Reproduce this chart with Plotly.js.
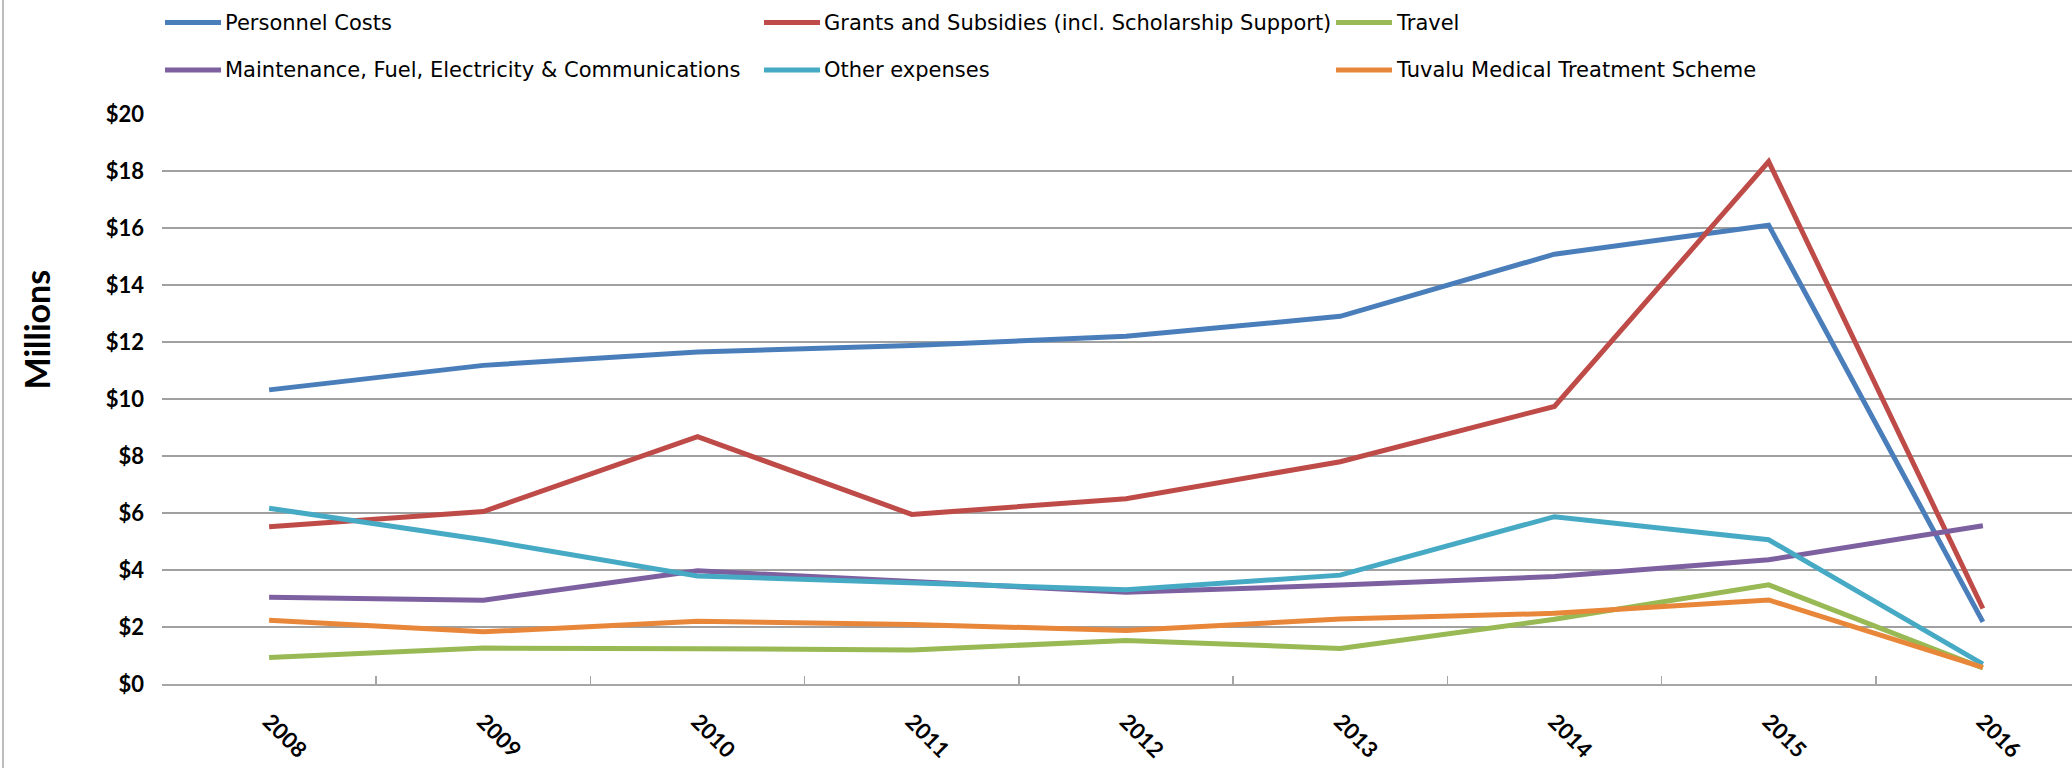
<!DOCTYPE html>
<html>
<head>
<meta charset="utf-8">
<script src="https://cdn.plot.ly/plotly-3.0.1.min.js"></script>
<style>
  html, body { margin: 0; padding: 0; background: #ffffff; }
  #chart { width: 2072px; height: 768px; }
</style>
</head>
<body>
<div id="chart"></div>
<script>
// ---- data ----
var years = ["2008", "2009", "2010", "2011", "2012", "2013", "2014", "2015", "2016"];

var personnelCosts   = [10.32, 11.18, 11.65, 11.88, 12.20, 12.90, 15.08, 16.10, 2.18];
var grantsSubsidies  = [5.52, 6.05, 8.68, 5.95, 6.50, 7.80, 9.74, 18.33, 2.65];
var travel           = [0.93, 1.26, 1.24, 1.19, 1.53, 1.25, 2.27, 3.48, 0.56];
var maintenance      = [3.04, 2.94, 3.97, 3.58, 3.22, 3.47, 3.77, 4.36, 5.55];
var otherExpenses    = [6.17, 5.06, 3.79, 3.56, 3.31, 3.82, 5.87, 5.06, 0.70];
var medicalScheme    = [2.24, 1.83, 2.20, 2.09, 1.88, 2.28, 2.48, 2.95, 0.58];

var seriesNames = [
  "Personnel Costs",
  "Grants and Subsidies (incl. Scholarship Support)",
  "Travel",
  "Maintenance, Fuel, Electricity & Communications",
  "Other expenses",
  "Tuvalu Medical Treatment Scheme"
];
var seriesValues = [personnelCosts, grantsSubsidies, travel, maintenance, otherExpenses, medicalScheme];
var yAxisTitle = "Millions";

// ---- styles ----
var seriesColors = ["#4A7EBB", "#BE4B48", "#98B954", "#7D60A0", "#46AAC5", "#E8873A"];

var W = 2072, H = 768;
var M = { l: 162, r: 0, t: 114, b: 84 };
var plotW = W - M.l - M.r, plotH = H - M.t - M.b;
function px2x(px) { return (px - M.l) / plotW; }
function py2y(py) { return (H - M.b - py) / plotH; }

var traces = seriesValues.map(function (vals, i) {
  return {
    type: "scatter",
    mode: "lines",
    x: years,
    y: vals,
    name: seriesNames[i],
    line: { color: seriesColors[i], width: 5 },
    showlegend: false,
    hoverinfo: "x+y+name"
  };
});

// manual legend: 3 columns x 2 rows, filled row-wise
var legendColX = [165, 764, 1336];
var legendRowY = [22.5, 70];
var legendLineLen = 56;
var shapes = [];
var annotations = [];
seriesNames.forEach(function (nm, i) {
  var col = i % 3, row = Math.floor(i / 3);
  var x0 = legendColX[col], yy = legendRowY[row];
  shapes.push({
    type: "line", xref: "paper", yref: "paper",
    x0: px2x(x0), x1: px2x(x0 + legendLineLen),
    y0: py2y(yy), y1: py2y(yy),
    line: { color: seriesColors[i], width: 5 }
  });
  annotations.push({
    xref: "paper", yref: "paper",
    x: px2x(x0 + legendLineLen + 2), y: py2y(yy),
    xanchor: "left", yanchor: "middle",
    text: nm, showarrow: false,
    font: { family: "DejaVu Sans", size: 21, color: "#000000" }
  });
});

// y axis title
annotations.push({
  xref: "paper", yref: "paper",
  x: px2x(35.5), y: py2y(330),
  xanchor: "center", yanchor: "middle",
  textangle: -90,
  text: yAxisTitle, showarrow: false,
  font: { family: "Lato", size: 34, color: "#000000", weight: "bold" }
});

// chart frame line on the left
shapes.push({
  type: "line", xref: "paper", yref: "paper",
  x0: px2x(3), x1: px2x(3), y0: py2y(0), y1: py2y(H),
  line: { color: "#a6a6a6", width: 1.5 }
});

var layout = {
  width: W,
  height: H,
  margin: M,
  paper_bgcolor: "#ffffff",
  plot_bgcolor: "#ffffff",
  showlegend: false,
  xaxis: {
    type: "category",
    categoryorder: "array",
    categoryarray: years,
    range: [-0.5, 8.416],
    tickson: "boundaries",
    ticks: "inside",
    ticklen: 8,
    tickwidth: 1.5,
    tickcolor: "#a6a6a6",
    showline: true,
    linecolor: "#a6a6a6",
    linewidth: 2,
    showgrid: false,
    zeroline: false,
    tickangle: 45,
    ticklabelstandoff: 14,
    tickfont: { family: "Lato", size: 22, color: "#000000", weight: "bold" },
    automargin: false,
    fixedrange: true
  },
  yaxis: {
    range: [0, 20],
    dtick: 2,
    tick0: 0,
    tickprefix: "$",
    showgrid: true,
    gridcolor: "#a0a0a0",
    gridwidth: 1.5,
    zeroline: false,
    showline: false,
    ticks: "",
    ticklabelstandoff: 17,
    tickfont: { family: "Lato", size: 22, color: "#000000", weight: "bold" },
    automargin: false,
    fixedrange: true
  },
  shapes: shapes,
  annotations: annotations
};

Plotly.newPlot("chart", traces, layout, { displayModeBar: false, staticPlot: true });
</script>
</body>
</html>
